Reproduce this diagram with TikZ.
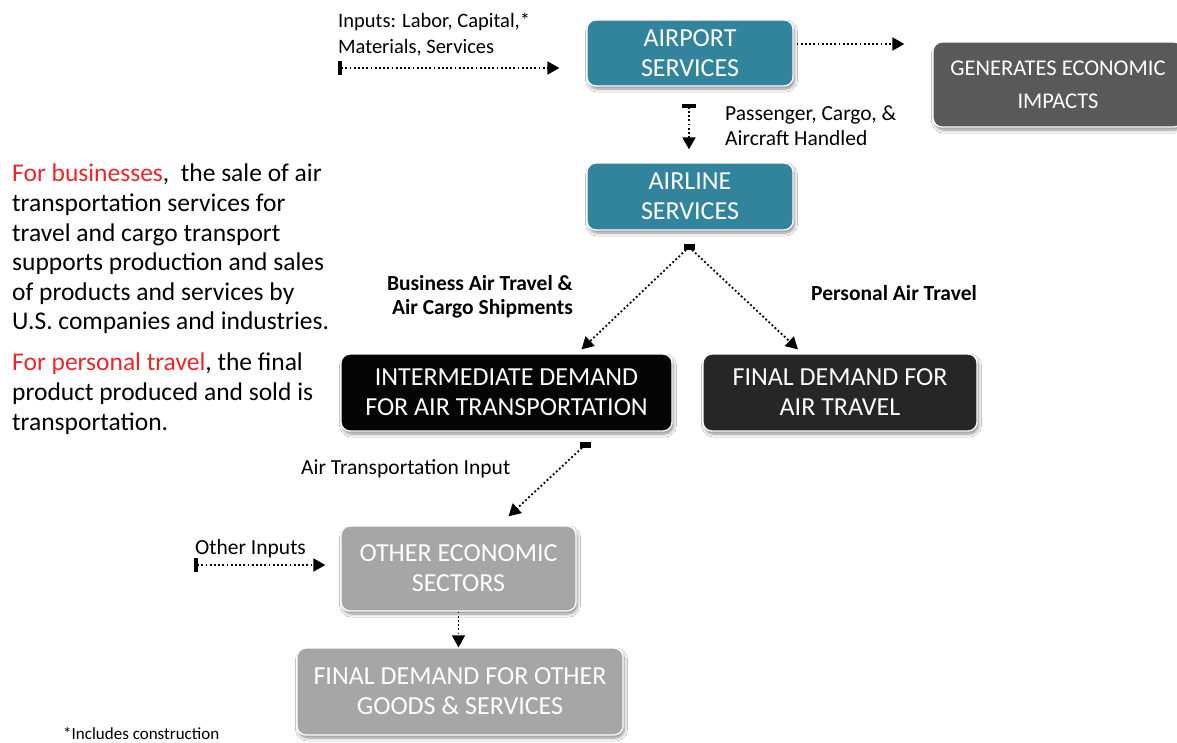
\documentclass[tikz,border=0pt]{standalone}
\usepackage{fontspec}
\setmainfont{Carlito}
\usetikzlibrary{arrows.meta,shadows.blur}

\definecolor{tealbox}{HTML}{31849B}
\definecolor{impactgray}{HTML}{595959}
\definecolor{blackbox}{HTML}{050505}
\definecolor{darkbox}{HTML}{262626}
\definecolor{lightbox}{HTML}{A6A6A6}
\definecolor{accent}{HTML}{E8262B}

\tikzset{
  box/.style={rounded corners=9pt, draw=white, line width=1.3pt, text=white,
    align=center, inner sep=0pt, font=\fontsize{26}{30}\selectfont,
    blur shadow={shadow xshift=1.5pt, shadow yshift=-3pt, shadow blur steps=6,
      shadow blur radius=3pt, shadow opacity=45}},
  flow/.style={line width=1.8pt, dash pattern=on 1.8pt off 2.4pt,
    -{Triangle[length=12pt,width=13pt]}},
  teeflow/.style={flow, {Rectangle[length=4pt,width=14pt]}-{Triangle[length=12pt,width=13pt]}},
  tee/.style={fill=black, inner sep=0pt, minimum width=11pt, minimum height=6pt},
  lbl/.style={font=\fontsize{21.5}{25}\selectfont, align=left, inner sep=0pt},
  blbl/.style={font=\bfseries\fontsize{21.5}{24}\selectfont, inner sep=0pt},
  para/.style={font=\fontsize{25.5}{29.6}\selectfont, align=left, inner sep=0pt},
}

\begin{document}
\begin{tikzpicture}[x=1pt,y=-1pt]
\useasboundingbox[fill=white] (0,0) rectangle (1177,742);

% boxes
\node[box, fill=tealbox, minimum width=206pt, minimum height=66pt] (airport) at (690,53) {AIRPORT\\SERVICES};
\node[box, fill=impactgray, minimum width=250pt, minimum height=85pt, font=\fontsize{22.5}{33}\selectfont] (impact) at (1058,84.5) {GENERATES ECONOMIC\\IMPACTS};
\node[box, fill=tealbox, minimum width=206pt, minimum height=67pt] (airline) at (690,196.5) {AIRLINE\\SERVICES};
\node[box, fill=blackbox, minimum width=331pt, minimum height=77pt] (inter) at (506.5,392.5) {INTERMEDIATE DEMAND\\FOR AIR TRANSPORTATION};
\node[box, fill=darkbox, minimum width=274pt, minimum height=77pt] (travel) at (840,392.5) {FINAL DEMAND FOR\\AIR TRAVEL};
\node[box, fill=lightbox, minimum width=235pt, minimum height=85pt] (other) at (458.5,568.5) {OTHER ECONOMIC\\SECTORS};
\node[box, fill=lightbox, minimum width=326pt, minimum height=87pt] (goods) at (460,691.5) {FINAL DEMAND FOR OTHER\\GOODS \& SERVICES};

% branching points
\node[tee] (split) at (689,247) {};
\node[tee] (interout) at (585,445) {};

% free ends of the input arrows
\coordinate (inputs) at (338,68);
\coordinate (otherin) at (194,565);

% connectors
\draw[teeflow, shorten >=27pt] (inputs) -- (inputs -| airport.west);
\draw[flow, shorten <=3pt, shorten >=28pt] ([yshift=9pt]airport.east) -- ([yshift=9pt]airport.east -| impact.west);
\draw[teeflow] ([xshift=-1pt,yshift=-17pt]airport.south) -- ([xshift=-1pt,yshift=13pt]airline.north);
\draw[flow] (split.center) -- ([xshift=75pt,yshift=4pt]inter.north);
\draw[flow] (split.center) -- ([xshift=-42pt,yshift=4pt]travel.north);
\draw[flow] (interout.center) -- ([xshift=50pt,yshift=9pt]other.north);
\draw[teeflow, shorten >=15pt] (otherin) -- (otherin -| other.west);
\draw[flow] (other.south) -- (other.south |- goods.north);

% connector labels
\node[lbl, font=\fontsize{20.5}{26}\selectfont, anchor=north west] at (338,13) {Inputs: Labor, Capital,*\\Materials, Services};
\node[lbl, anchor=north west] at (725,106) {Passenger, Cargo, \&\\Aircraft Handled};
\node[blbl, align=right, anchor=north east] at (573,275) {Business Air Travel \&\\Air Cargo Shipments};
\node[blbl, anchor=west] at (811,293) {Personal Air Travel};
\node[lbl, anchor=west] at (301,469) {Air Transportation Input};
\node[lbl, anchor=west] at (195,549) {Other Inputs};

% side notes
\node[para, anchor=north west] at (12,164) {\textcolor{accent}{For businesses},\ \ the sale of air\\
transportation\ services for\\
travel and cargo transport\\
supports production and sales\\
of products and services by\\
U.S. companies and industries.\\[11.4pt]
\textcolor{accent}{For personal travel}, the final\\
product produced and sold is\\
transportation.};
\node[font=\fontsize{17}{20}\selectfont, anchor=base west, inner sep=0pt] (foot) at (63,739) {*Includes construction};
\end{tikzpicture}
\end{document}
